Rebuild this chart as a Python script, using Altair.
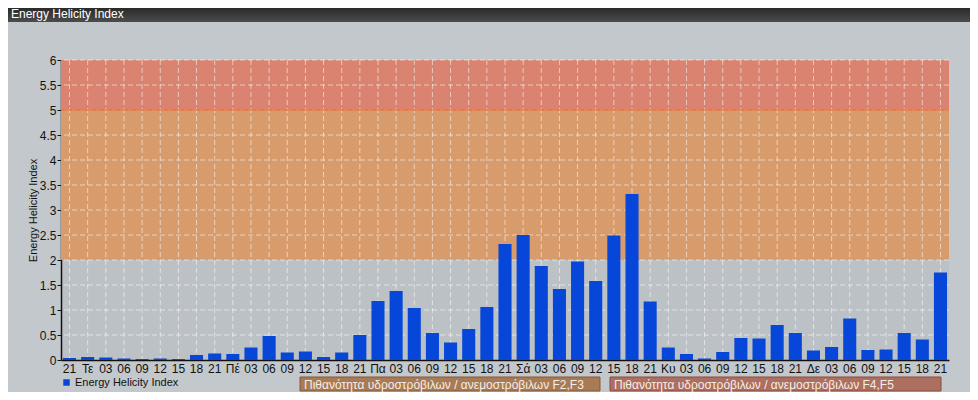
import json
import altair as alt
import pandas as pd

# ---- data ----
labels = ["21", "Τε", "03", "06", "09", "12", "15", "18",
          "21", "Πέ", "03", "06", "09", "12", "15", "18",
          "21", "Πα", "03", "06", "09", "12", "15", "18",
          "21", "Σά", "03", "06", "09", "12", "15", "18",
          "21", "Κυ", "03", "06", "09", "12", "15", "18",
          "21", "Δε", "03", "06", "09", "12", "15", "18", "21"]
values = [0.04, 0.06, 0.05, 0.03, 0.02, 0.03, 0.02, 0.10,
          0.13, 0.12, 0.25, 0.48, 0.15, 0.17, 0.06, 0.15,
          0.50, 1.18, 1.38, 1.04, 0.54, 0.35, 0.62, 1.06,
          2.32, 2.50, 1.88, 1.42, 1.97, 1.58, 2.49, 3.32,
          1.17, 0.25, 0.12, 0.03, 0.16, 0.44, 0.43, 0.70,
          0.54, 0.19, 0.26, 0.83, 0.20, 0.21, 0.54, 0.41, 1.75]
series_name = "Energy Helicity Index"
y_ticks = [0, 0.5, 1, 1.5, 2, 2.5, 3, 3.5, 4, 4.5, 5, 5.5, 6]
band_low = [2, 5]
band_high = [5, 6]
band_colors = ["#d89b6b", "#da8371"]
box_texts = ["Πιθανότητα υδροστρόβιλων / ανεμοστρόβιλων F2,F3",
             "Πιθανότητα υδροστρόβιλων / ανεμοστρόβιλων F4,F5"]
title_text = "Energy Helicity Index"

FONT = "Liberation Sans"
Y_TITLE = "Energy Helicity Index"

df = pd.DataFrame({"idx": list(range(len(values))), "value": values,
                   "series": [series_name] * len(values)})
bands = pd.DataFrame({"lo": band_low, "hi": band_high, "c": band_colors})
grid_df = pd.DataFrame({"v": [t for t in y_ticks if t > 0]})

label_expr = json.dumps(labels, ensure_ascii=False) + "[datum.value]"

xscale = alt.Scale(paddingInner=0.28, paddingOuter=0.11)
yscale = alt.Scale(domain=[y_ticks[0], y_ticks[-1]], nice=False)

x_axis = alt.Axis(labelExpr=label_expr, labelAngle=0, ticks=False,
                  grid=False, title=None, labelPadding=3,
                  labelFontSize=12, labelFont=FONT, labelColor="#111",
                  labelOverlap=False,
                  domainColor="#111", domainWidth=1.5)

x_enc = alt.X("idx:O", scale=xscale, axis=x_axis)

band_layer = alt.Chart(bands).mark_rect().encode(
    y=alt.Y("lo:Q", scale=yscale, title=Y_TITLE),
    y2="hi:Q",
    color=alt.Color("c:N", scale=None),
)

five_line = alt.Chart(pd.DataFrame({"v": [5]})).mark_rule(
    color="#e8743e", strokeWidth=1.5).encode(
    y=alt.Y("v:Q", scale=yscale, title=Y_TITLE))

ygrid = alt.Chart(grid_df).mark_rule(
    color="white", opacity=0.55, strokeDash=[5, 3], strokeWidth=1).encode(
    y=alt.Y("v:Q", scale=yscale, title=Y_TITLE))

xgrid = alt.Chart(df).mark_rule(
    color="white", opacity=0.55, strokeDash=[5, 3], strokeWidth=1).encode(
    x=x_enc, y=alt.YDatum(6, title=Y_TITLE), y2=alt.Y2Datum(0))

bars = alt.Chart(df).mark_bar(cornerRadius=0).encode(
    x=x_enc,
    y=alt.Y("value:Q", scale=yscale, title=Y_TITLE),
    color=alt.Color("series:N",
                    scale=alt.Scale(domain=[series_name], range=["#0646d8"]),
                    legend=alt.Legend(orient="none", legendX=0, legendY=317,
                                      title=None, symbolType="square",
                                      symbolSize=42, symbolStrokeWidth=0,
                                      labelFontSize=11, labelFont=FONT,
                                      labelColor="#111", padding=0,
                                      labelOffset=3)),
)

# decorations (title bar, F-boxes)
grad = alt.Gradient(gradient="linear",
                    stops=[alt.GradientStop(color="#2a2a2a", offset=0),
                           alt.GradientStop(color="#4c4c4c", offset=1)],
                    x1=0, x2=0, y1=0, y2=1)
title_bar = alt.Chart(pd.DataFrame({"a": [0]})).mark_rect(color=grad).encode(
    x=alt.value(-53), x2=alt.value(910), y=alt.value(-52), y2=alt.value(-38))
title_txt = alt.Chart(pd.DataFrame({"t": [title_text]})).mark_text(
    align="left", baseline="middle", color="white", fontSize=12, font=FONT).encode(
    x=alt.value(-50), y=alt.value(-46), text="t:N")

box1 = alt.Chart(pd.DataFrame({"a": [0]})).mark_rect(
    fill="#a87b57", stroke="#865a38", strokeWidth=1).encode(
    x=alt.value(239), x2=alt.value(539), y=alt.value(317), y2=alt.value(331))
box2 = alt.Chart(pd.DataFrame({"a": [0]})).mark_rect(
    fill="#ad6f60", stroke="#8a4c3f", strokeWidth=1).encode(
    x=alt.value(549), x2=alt.value(880), y=alt.value(317), y2=alt.value(331))
txt1 = alt.Chart(pd.DataFrame({"t": [box_texts[0]]})).mark_text(
    align="left", baseline="middle", color="#f5eee6", fontSize=12, font=FONT).encode(
    x=alt.value(243), y=alt.value(324.5), text="t:N")
txt2 = alt.Chart(pd.DataFrame({"t": [box_texts[1]]})).mark_text(
    align="left", baseline="middle", color="#f5eee6", fontSize=12, font=FONT).encode(
    x=alt.value(553), y=alt.value(324.5), text="t:N")

chart = alt.layer(
    band_layer, ygrid, xgrid, five_line, bars,
    title_bar, title_txt, box1, box2, txt1, txt2,
).properties(
    width=888, height=300,
    autosize=alt.AutoSizeParams(type="none"),
    padding={"left": 53, "top": 52, "right": 21, "bottom": 32},
    background="#c3c8cd",
).configure_view(
    fill="#bcc1c6", stroke=None
).configure_axisY(
    tickCount=len(y_ticks) - 1,
    grid=False, labelOverlap=False, format="~g",
    labelFontSize=12, labelFont=FONT, labelColor="#111", labelPadding=1,
    tickSize=4, tickColor="#111", domainColor="#111", domainWidth=1.5,
    titleFontSize=11, titleFontWeight="normal", titleFont=FONT,
    titleColor="#111", titlePadding=1,
)

chart.save("out.html", embed_options={"renderer": "svg", "actions": False})
